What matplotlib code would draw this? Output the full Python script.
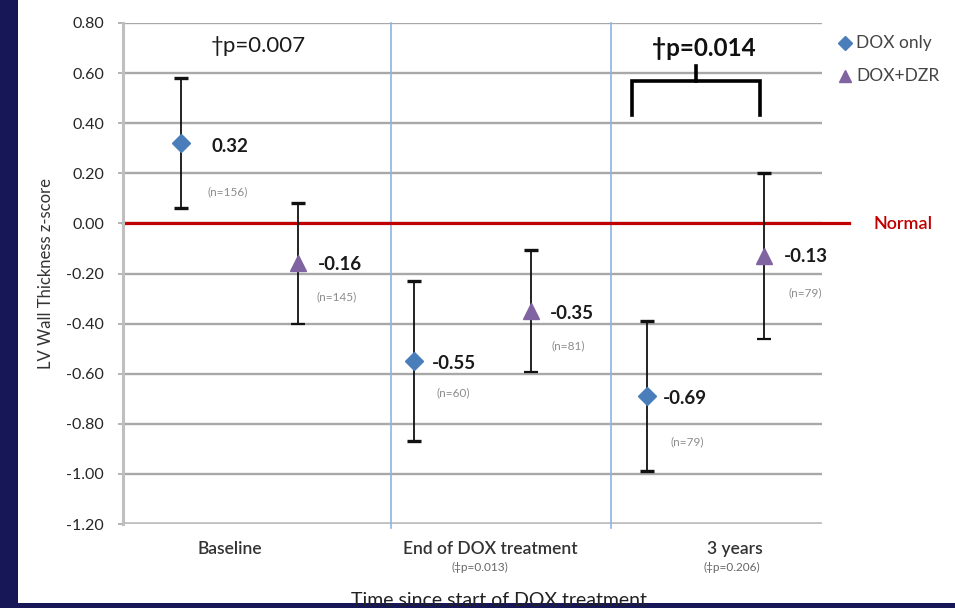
import matplotlib
matplotlib.use('Agg')
import matplotlib.pyplot as plt
from matplotlib.lines import Line2D
from matplotlib.patches import Rectangle
import matplotlib.transforms as mtransforms

plt.rcParams['font.family'] = ['Lato', 'DejaVu Sans']

# ---------------- data ----------------
categories = ['Baseline', 'End of DOX treatment', '3 years']
cat_pvalues = ['', '(\u2021p=0.013)', '(\u2021p=0.206)']
series = ['DOX only', 'DOX+DZR']
dox_mean = [0.32, -0.55, -0.69]
dox_err = [0.26, 0.32, 0.30]
dox_n = [156, 60, 79]
dzr_mean = [-0.16, -0.35, -0.13]
dzr_err = [0.24, 0.245, 0.33]
dzr_n = [145, 81, 79]
yticks = [0.80, 0.60, 0.40, 0.20, 0.00, -0.20, -0.40, -0.60, -0.80, -1.00, -1.20]
normal_level = 0.0
p_baseline = '\u2020p=0.007'
p_3years = '\u2020p=0.014'

# ---------------- layout ----------------
W, H = 955, 608
fig = plt.figure(figsize=(W / 100, H / 100), dpi=100)
fig.patch.set_facecolor('#171757')
fig.add_artist(Rectangle((18 / W, 5 / H), 1 - 18 / W, 1 - 5 / H,
                         transform=fig.transFigure, facecolor='white',
                         edgecolor='none', zorder=0))

ax = fig.add_axes([123 / W, 1 - 524 / H, (822 - 123) / W, (524 - 23) / H])
ax.set_facecolor('none')
ax.set_xlim(0.5, 6.5)
ax.set_ylim(-1.2, 0.8)

gray = '#a8a8a8'
ax.set_yticks(yticks)
ax.set_yticklabels([f'{v:.2f}' for v in yticks])
ax.tick_params(axis='y', length=3.6, width=1.2, color=gray, labelsize=11.5,
               labelcolor='#262626', pad=10)
ax.set_xticks([])
for s in ['top', 'right', 'bottom']:
    ax.spines[s].set_visible(False)
ax.spines['left'].set_color('#bfbfbf')
ax.spines['left'].set_linewidth(2.2)
ax.grid(axis='y', color=gray, lw=1.7, zorder=1)
ax.set_axisbelow(True)
ax.axhline(yticks[-1], color='#bfbfbf', lw=2.6, zorder=1)

# vertical separators
for xs in [2.798, 4.689]:
    ax.axvline(xs, ymin=-0.008, ymax=1.0, color='#8db3e2', lw=1.2, zorder=1,
               clip_on=False)

# normal reference line
ax.plot([0.5, 6.73], [normal_level, normal_level], color='#c00000', lw=2.3,
        clip_on=False, zorder=2)
fig.text(873 / W, 1 - 224 / H, 'Normal', color='#c00000', fontsize=13,
         fontweight='semibold', va='center', ha='left')

# ---------------- series ----------------
x_dox = [1 + 2 * i for i in range(len(categories))]
x_dzr = [2 + 2 * i for i in range(len(categories))]
blue = '#4a7ebb'
purple = '#8064a2'

eb1 = ax.errorbar(x_dox, dox_mean, yerr=dox_err, fmt='D', color=blue,
                  markersize=9, ecolor='#111111', elinewidth=1.3, capsize=5,
                  capthick=2.4, zorder=4)
eb2 = ax.errorbar(x_dzr, dzr_mean, yerr=dzr_err, fmt='^', color=purple,
                  markersize=11, ecolor='#111111', elinewidth=1.3, capsize=5,
                  capthick=2.4, zorder=4)
# lower caps of DOX+DZR drawn in teal as in the original
eb2[1][0].set_color('#4aa3b8')
eb2[1][0].set_markeredgewidth(1.6)

dox_off = [(30, -3, 26, -49), (18, -2, 22, -32), (16, -2, 23, -46)]
dzr_off = [(20, -1, 19, -33), (19, -2, 21, -35), (20, -1, 25, -37)]
for xs, ms, ns, offs in [(x_dox, dox_mean, dox_n, dox_off),
                         (x_dzr, dzr_mean, dzr_n, dzr_off)]:
    for x, m, n, (dx, dy, ndx, ndy) in zip(xs, ms, ns, offs):
        ax.annotate(f'{m:.2f}', (x, m), xytext=(dx, dy),
                    textcoords='offset pixels', ha='left', va='center',
                    fontsize=13.5, fontweight='bold', color='#1a1a1a', zorder=5)
        ax.annotate(f'(n={n})', (x, m), xytext=(ndx, ndy),
                    textcoords='offset pixels', ha='left', va='center',
                    fontsize=8.5, color='#8c8c8c', zorder=5)

# ---------------- category labels ----------------
trans = mtransforms.blended_transform_factory(ax.transData, fig.transFigure)
cat_x = [1.418, 3.65, 5.75]
pv_x = [1.418, 3.56, 5.73]
for cx, px, lab, pv in zip(cat_x, pv_x, categories, cat_pvalues):
    ax.text(cx, 1 - 549 / H, lab, transform=trans, ha='center', va='center',
            fontsize=12.5, color='#333333', fontweight='semibold')
    if pv:
        ax.text(px, 1 - 567 / H, pv, transform=trans, ha='center',
                va='center', fontsize=8.5, color='#666666')

fig.text(499 / W, 1 - 600 / H, 'Time since start of DOX treatment',
         ha='center', va='center', fontsize=14, color='#222222', zorder=0.5)

fig.text(46 / W, 1 - 274 / H, 'LV Wall Thickness z-score', rotation=90,
         ha='center', va='center', fontsize=12, color='#333333')

# ---------------- p-value annotations ----------------
fig.text(258 / W, 1 - 46 / H, p_baseline, ha='center', va='center',
         fontsize=16, color='#1a1a1a')

bx0, bx1 = 4.869, 5.968
by_bot, by_top, by_tick = 0.431, 0.567, 0.627
ax.plot([bx0, bx0, bx1, bx1], [by_bot, by_top, by_top, by_bot],
        color='black', lw=2.6, solid_joinstyle='miter', zorder=3)
ax.plot([(bx0 + bx1) / 2, (bx0 + bx1) / 2], [by_top, by_tick], color='black',
        lw=2.6, zorder=3)
fig.text(704 / W, 1 - 48 / H, p_3years, ha='center', va='center',
         fontsize=17.5, fontweight='bold', color='#111111')

# ---------------- legend ----------------
fig.add_artist(Line2D([845 / W], [1 - 43 / H], marker='D', color=blue,
                      markersize=7, linestyle='none',
                      transform=fig.transFigure))
fig.add_artist(Line2D([845 / W], [1 - 76 / H], marker='^', color=purple,
                      markersize=9, linestyle='none',
                      transform=fig.transFigure))
fig.text(856 / W, 1 - 43 / H, series[0], ha='left', va='center',
         fontsize=12.5, color='#444444')
fig.text(856 / W, 1 - 76 / H, series[1], ha='left', va='center',
         fontsize=12.5, color='#444444')

fig.savefig('out.png', dpi=100, facecolor=fig.get_facecolor())
